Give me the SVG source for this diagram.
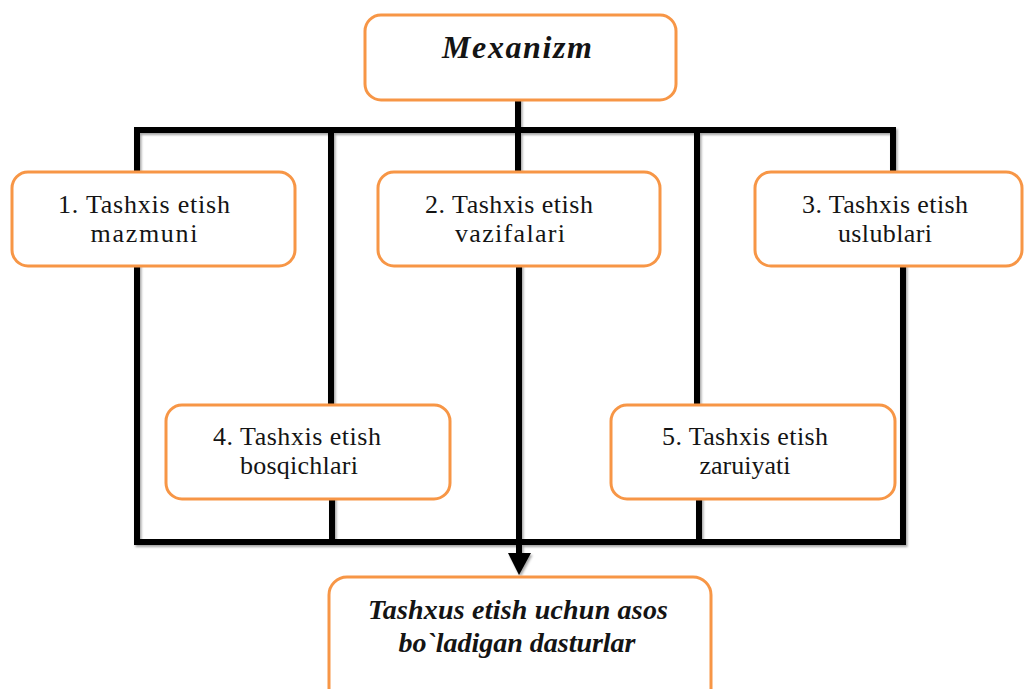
<svg xmlns="http://www.w3.org/2000/svg" width="1027" height="689" viewBox="0 0 1027 689">
<defs>
<style>
.box{fill:#ffffff;stroke:#F79646;stroke-width:3}
.ln{fill:none;stroke:#000000;stroke-width:6;stroke-linecap:square;stroke-linejoin:miter}
.t{font-family:'Liberation Serif','Times New Roman',serif;font-size:26px;fill:#141414;text-anchor:middle}
.bi{font-family:'Liberation Serif','Times New Roman',serif;font-weight:bold;font-style:italic;fill:#141414;text-anchor:middle}
</style>
<filter id="sh" x="-5%" y="-5%" width="110%" height="110%">
<feDropShadow dx="1.5" dy="2" stdDeviation="1.2" flood-color="#000" flood-opacity="0.35"/>
</filter>
</defs>
<rect width="1027" height="689" fill="#ffffff"/>
<g id="connectors" filter="url(#sh)">
<path class="ln" d="M518 100 V172"/>
<path class="ln" d="M137 172 V130 H893 V172"/>
<path class="ln" d="M331 130 V405"/>
<path class="ln" d="M697 130 V405"/>
<path class="ln" d="M137 265 V542 H903 V265"/>
<path class="ln" d="M332 499 V542"/>
<path class="ln" d="M699 499 V542"/>
<path class="ln" d="M519 267 V556" stroke-linecap="butt"/>
<polygon points="508,553 531,553 519,575" fill="#000"/>
</g>
<g id="node-mexanizm">
<rect class="box" x="365" y="15" width="311" height="85" rx="16"/>
<text class="bi" x="517" y="58" font-size="32" textLength="150" lengthAdjust="spacing">Mexanizm</text>
</g>
<g id="node-1">
<rect class="box" x="12" y="172" width="283" height="94" rx="16"/>
<text class="t" x="144" y="213" textLength="172" lengthAdjust="spacing">1.  Tashxis etish</text>
<text class="t" x="144" y="242" textLength="107" lengthAdjust="spacing">mazmuni</text>
</g>
<g id="node-2">
<rect class="box" x="378" y="172" width="282" height="94" rx="16"/>
<text class="t" x="509" y="213" textLength="168" lengthAdjust="spacing">2. Tashxis etish</text>
<text class="t" x="510" y="242" textLength="110" lengthAdjust="spacing">vazifalari</text>
</g>
<g id="node-3">
<rect class="box" x="755" y="172" width="267" height="94" rx="16"/>
<text class="t" x="885" y="213" textLength="166" lengthAdjust="spacing">3. Tashxis etish</text>
<text class="t" x="885" y="242" textLength="94" lengthAdjust="spacing">uslublari</text>
</g>
<g id="node-4">
<rect class="box" x="166" y="405" width="284" height="94" rx="16"/>
<text class="t" x="297" y="445" textLength="168" lengthAdjust="spacing">4. Tashxis etish</text>
<text class="t" x="299" y="474" textLength="118" lengthAdjust="spacing">bosqichlari</text>
</g>
<g id="node-5">
<rect class="box" x="611" y="405" width="284" height="94" rx="16"/>
<text class="t" x="745" y="445" textLength="166" lengthAdjust="spacing">5. Tashxis etish</text>
<text class="t" x="745" y="474" textLength="91" lengthAdjust="spacing">zaruiyati</text>
</g>
<g id="node-dasturlar">
<rect class="box" x="329" y="577" width="382" height="130" rx="18"/>
<text class="bi" x="518" y="619" font-size="28" textLength="300" lengthAdjust="spacing">Tashxus etish uchun asos</text>
<text class="bi" x="517" y="652" font-size="28" textLength="237" lengthAdjust="spacing">bo`ladigan dasturlar</text>
</g>
</svg>
